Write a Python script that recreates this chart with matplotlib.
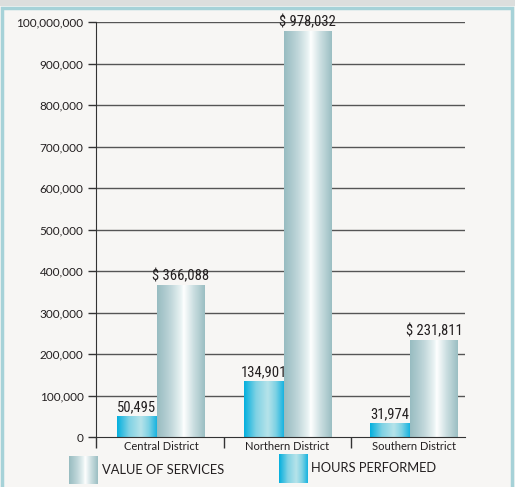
import numpy as np
import matplotlib
matplotlib.use("Agg")
import matplotlib.pyplot as plt
from matplotlib.colors import LinearSegmentedColormap
from matplotlib.patches import Rectangle

# data
districts = ["Central District", "Northern District", "Southern District"]
hours = [50495, 134901, 31974]
value = [366088, 978032, 231811]
hours_labels = ["50,495", "134,901", "31,974"]
value_labels = ["$ 366,088", "$ 978,032", "$ 231,811"]
y_ticks = [0, 100000, 200000, 300000, 400000, 500000, 600000, 700000, 800000, 900000, 1000000]
y_tick_labels = ["0", "100,000", "200,000", "300,000", "400,000", "500,000",
                 "600,000", "700,000", "800,000", "900,000", "100,000,000"]

plt.rcParams['font.family'] = ['Lato', 'DejaVu Sans']
narrow = ['Roboto Condensed', 'Open Sans Condensed', 'Liberation Sans Narrow', 'Lato']

value_cmap = LinearSegmentedColormap.from_list(
    "val", [(0, '#98bcc1'), (0.3, '#c2d8db'), (0.52, '#eef6f6'), (0.56, '#ffffff'),
            (0.75, '#cfe1e3'), (1, '#9cbfc3')])
hours_cmap = LinearSegmentedColormap.from_list(
    "hrs", [(0, '#05b0de'), (0.3, '#80d2e4'), (0.6, '#b6e3ea'), (0.8, '#7fd2e4'), (1, '#1ab4e0')])

fig = plt.figure(figsize=(5.15, 4.87), dpi=100, facecolor='#f7f6f4')

# frame
fig.patches.append(Rectangle((0, 487 - 6), 515, 6, transform=None, facecolor='#dcdedd',
                             edgecolor='none', zorder=0))
fig.patches.append(Rectangle((1.5, -5), 510, 487 - 6 + 5 - 1.5, transform=None, fill=False,
                             edgecolor='#a6d2d8', linewidth=2.5, zorder=1))

ax = fig.add_axes([96 / 515, 50 / 487, 369 / 515, 415 / 487])
ax.set_facecolor('none')

step = 126.5
x_left = -61 / step
x_right = (465 - 157) / step
w_h = 40 / step
w_v = 48 / step


def grad_bar(x0, x1, h, cmap):
    g = np.linspace(0, 1, 64).reshape(1, -1)
    ax.imshow(g, cmap=cmap, extent=[x0, x1, 0, h], aspect='auto', zorder=3,
              interpolation='bilinear')


for i in range(len(districts)):
    grad_bar(i - w_h, i, hours[i], hours_cmap)
    grad_bar(i, i + w_v, value[i], value_cmap)
    ax.text(i - w_h / 2, hours[i] + 5000, hours_labels[i], ha='center', va='bottom',
            fontsize=10.5, family=narrow, color='#231f20')
    ax.text(i + w_v / 2, value[i] + 5000, value_labels[i], ha='center', va='bottom',
            fontsize=10.5, family=narrow, color='#231f20')

ax.set_xlim(x_left, x_right)
ax.set_ylim(0, 1000000)

for t in y_ticks[1:]:
    ax.axhline(t, color='#555555', linewidth=1, zorder=1)

ax.set_yticks(y_ticks)
ax.set_yticklabels(y_tick_labels, fontsize=8.5, color='#231f20')
ax.tick_params(axis='y', length=6, width=1, color='#333333', pad=3)

centers = [i + (w_v - w_h) / 2 for i in range(len(districts))]
ax.set_xticks(centers)
ax.set_xticklabels(districts, fontsize=8, color='#231f20')
ax.tick_params(axis='x', which='major', length=0, pad=3)
seps = [x_left] + [(centers[i] + centers[i + 1]) / 2 for i in range(len(districts) - 1)]
ax.set_xticks(seps, minor=True)
ax.tick_params(axis='x', which='minor', length=8, width=1, color='#333333')

for s in ['top', 'right']:
    ax.spines[s].set_visible(False)
ax.spines['left'].set_color('#333333')
ax.spines['bottom'].set_color('#333333')
ax.spines['left'].set_zorder(4)
ax.spines['bottom'].set_zorder(4)

# legend
g = np.linspace(0, 1, 64).reshape(1, -1)
lax1 = fig.add_axes([69 / 515, 3 / 487, 29 / 515, 28 / 487])
lax1.imshow(g, cmap=value_cmap, aspect='auto', interpolation='bilinear')
lax1.axis('off')
fig.text(102 / 515, 17 / 487, "VALUE OF SERVICES", fontsize=9.3, va='center', ha='left',
         color='#231f20')
lax2 = fig.add_axes([279 / 515, 4 / 487, 29 / 515, 29 / 487])
lax2.imshow(g, cmap=hours_cmap, aspect='auto', interpolation='bilinear')
lax2.axis('off')
fig.text(311 / 515, 19 / 487, "HOURS PERFORMED", fontsize=9.3, va='center', ha='left',
         color='#231f20')

fig.savefig("out.png", dpi=100, facecolor=fig.get_facecolor())
